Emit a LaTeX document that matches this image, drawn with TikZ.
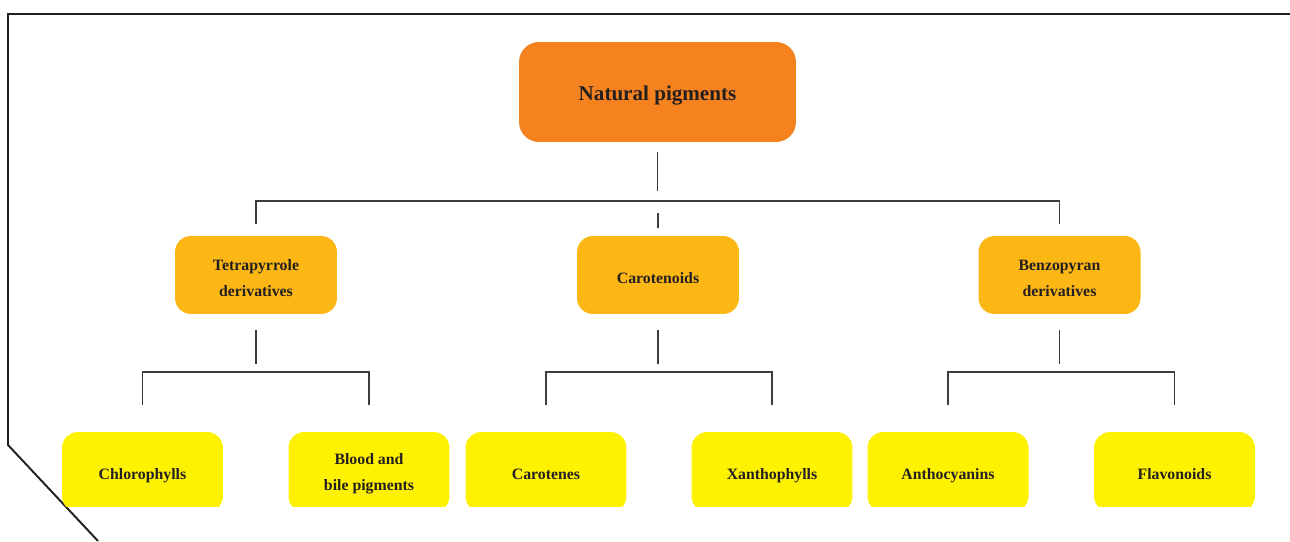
\documentclass[tikz,border=0pt]{standalone}
\usepackage{fontspec}
\setmainfont{Liberation Serif}
\usetikzlibrary{calc}
\definecolor{rootfill}{HTML}{F5821F}
\definecolor{midfill}{HTML}{FCB715}
\definecolor{leaffill}{HTML}{FFF200}
\definecolor{inkgray}{HTML}{3C3C3C}
\definecolor{textdark}{HTML}{231F20}
\newcommand\twolines[2]{\begin{tabular}[b]{@{}c@{}}#1\\#2\end{tabular}}
\tikzset{
  pbox/.style={rounded corners=0.32cm, inner sep=0pt, align=center, text=textdark,
    text depth=0pt, text height=8.6pt, font=\bfseries\fontsize{9}{15}\selectfont},
  rootbox/.style={pbox, fill=rootfill, minimum width=5.54cm, minimum height=2cm,
    rounded corners=0.4cm, text height=9.9pt, font=\bfseries\fontsize{12}{14}\selectfont},
  midbox/.style={pbox, fill=midfill, minimum width=3.24cm, minimum height=1.56cm},
  leafbox/.style={pbox, fill=leaffill, minimum width=3.22cm, minimum height=1.6cm},
  link/.style={draw=inkgray, line width=1.1pt},
}
\begin{document}
\begin{tikzpicture}[x=0.02cm,y=-0.02cm]
   \useasboundingbox (0,0) rectangle (1290,541);
   \draw[textdark, line width=1.1pt] (1290,14) -- (8,14) -- (8,445) -- (98,541);
   \node[rootbox] (root) at (657.5,92) {Natural pigments};
   \node[midbox, text height=24.6pt] (tetra) at (256,275) {\twolines{Tetrapyrrole}{derivatives}};
   \node[midbox, text height=9.4pt] (carot) at (658,275) {Carotenoids};
   \node[midbox, text height=24.6pt] (benzo) at (1059.5,275) {\twolines{Benzopyran}{derivatives}};
   \begin{scope}
     \clip (0,0) rectangle (1290,506);
     \node[leafbox] (chloro) at (142.5,472) {Chlorophylls};
     \node[leafbox, text height=21.2pt] (blood) at (369,472) {\twolines{Blood and}{bile pigments}};
     \node[leafbox, text height=9pt] (carotenes) at (546,472) {Carotenes};
     \node[leafbox] (xantho) at (772,472) {Xanthophylls};
     \node[leafbox] (antho) at (948,472) {Anthocyanins};
     \node[leafbox, text height=9pt] (flavo) at (1174.5,472) {Flavonoids};
   \end{scope}
   \draw[link] ($(root.south)+(0,10)$) -- ($(root.south)+(0,49)$);
   \draw[link] ($(tetra.north)+(0,-12)$) -- ($(tetra.north)+(0,-35)$)
      -- ($(benzo.north)+(0,-35)$) -- ($(benzo.north)+(0,-12)$);
   \draw[link] ($(carot.north)+(0,-8)$) -- ($(carot.north)+(0,-23)$);
   \foreach \p/\l/\r in {tetra/chloro/blood, carot/carotenes/xantho, benzo/antho/flavo}
   {
     \draw[link] ($(\p.south)+(0,16)$) -- ($(\p.south)+(0,50)$);
     \draw[link] ($(\l.north)+(0,-27)$) -- ($(\l.north)+(0,-60)$)
        -- ($(\r.north)+(0,-60)$) -- ($(\r.north)+(0,-27)$);
   }
\end{tikzpicture}
\end{document}
